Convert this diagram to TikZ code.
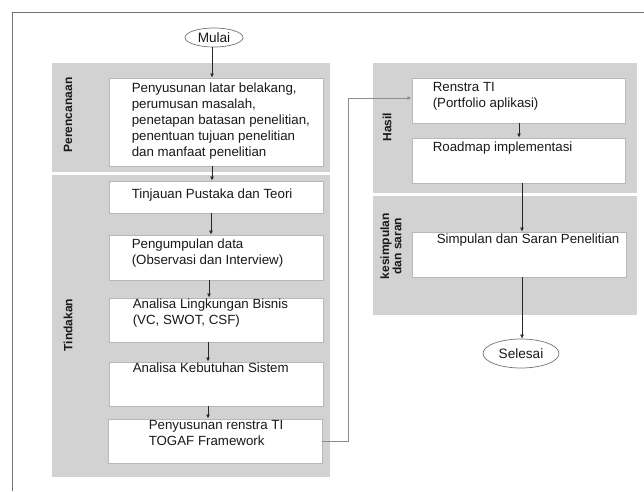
\documentclass[tikz,border=0pt]{standalone}
\usepackage{fontspec}
\setmainfont{Liberation Sans}
\usetikzlibrary{arrows.meta,calc,shapes.geometric}
\begin{document}
\begin{tikzpicture}[x=1pt,y=-1pt,
  band/.style={fill=gray!35,draw=none},
  box/.style={draw=black!28,line width=0.9pt,fill=white,minimum width=214pt,inner sep=0pt},
  txt/.style={font=\fontsize{13.3}{16}\selectfont,align=left,inner sep=0pt,anchor=north west,text=black!90},
  lane/.style={font=\bfseries\fontsize{12}{11}\selectfont,rotate=90,align=center,inner sep=0pt,text=black!90},
  term/.style={ellipse,draw=black!55,line width=0.7pt,fill=white,inner sep=0pt,font=\fontsize{13.6}{16}\selectfont,text=black!90},
  flow/.style={draw=black!85,line width=0.8pt,-{Latex[length=4pt,width=4pt]}},
  link/.style={draw=black!45,line width=0.9pt,-{Latex[length=4pt,width=4pt]}}]
\useasboundingbox (0,0) rectangle (644,491);
% outer frame
\draw[black!55,line width=0.8pt] (12.5,491) -- (12.5,12) -- (644,12);
% swimlane bands
\fill[band] (52,63) rectangle (330,172);
\fill[band] (52,175) rectangle (330,477);
\fill[band] (373,63) rectangle (637,193);
\fill[band] (373,196) rectangle (637,315);
\node[lane] (lp) at (68,115) {Perencanaan};
\node[lane] (lt) at (68,325) {Tindakan};
\node[lane] (lh) at (387,127) {Hasil};
\node[lane] (lk) at (391,246) {kesimpulan\\dan saran};
% terminals
\node[term,minimum width=58pt,minimum height=19pt] (mulai) at (214,37.5) {Mulai};
\node[term,minimum width=76pt,minimum height=29pt] (selesai) at (521,353.5) {Selesai};
% left column boxes
\node[box,minimum height=88pt] (b1) at (216,122) {};
\node[box,minimum height=32pt] (b2) at (216,197) {};
\node[box,minimum height=45pt] (b3) at (216,257.5) {};
\node[box,minimum height=44pt] (b4) at (216,320) {};
\node[box,minimum height=44pt] (b5) at (216,384) {};
\node[box,minimum height=44pt] (b6) at (215,441) {};
% right column boxes
\node[box,minimum width=213pt,minimum height=45pt] (r1) at (518.5,100.5) {};
\node[box,minimum width=213pt,minimum height=45pt] (r2) at (518.5,160.5) {};
\node[box,minimum width=214pt,minimum height=45pt] (r3) at (519,254.5) {};
% box texts
\node[txt] (t1) at ($(b1.north west)+(23,5)$) {Penyusunan latar belakang,\\perumusan masalah,\\penetapan batasan penelitian,\\penentuan tujuan penelitian\\dan manfaat penelitian};
\node[txt] (t2) at ($(b2.north west)+(23,8)$) {Tinjauan Pustaka dan Teori};
\node[txt] (t3) at ($(b3.north west)+(23,4)$) {Pengumpulan data\\(Observasi dan Interview)};
\node[txt] (t4) at ($(b4.north west)+(24,1)$) {Analisa Lingkungan Bisnis\\(VC, SWOT, CSF)};
\node[txt] (t5) at ($(b5.north west)+(24,1)$) {Analisa Kebutuhan Sistem};
\node[txt] (t6) at ($(b6.north west)+(41,2)$) {Penyusunan renstra TI\\TOGAF Framework};
\node[txt] (t7) at ($(r1.north west)+(21,5)$) {Renstra TI\\(Portfolio aplikasi)};
\node[txt] (t8) at ($(r2.north west)+(21,4)$) {Roadmap implementasi};
\node[txt] (t9) at ($(r3.north west)+(25,2)$) {Simpulan dan Saran Penelitian};
% connectors
\draw[flow] (mulai.south -| 212,0) -- (b1.north -| 212,0);
\draw[flow] (b1.south -| 212,0) -- (b2.north -| 212,0);
\draw[flow] (b2.south -| 211,0) -- (b3.north -| 211,0);
\draw[flow] (b3.south -| 209,0) -- (b4.north -| 209,0);
\draw[flow] (b4.south -| 208,0) -- (b5.north -| 208,0);
\draw[flow] (b5.south -| 208,0) -- (b6.north -| 208,0);
\draw[link] (b6.east) -- (348,441) |- ($(r1.west)+(0,-2.5)$);
\draw[flow] (r1.south -| 519,0) -- (r2.north -| 519,0);
\draw[flow] (r2.south -| 522,0) -- (r3.north -| 522,0);
\draw[flow] (r3.south -| 522,0) -- (selesai.north -| 522,0);
\end{tikzpicture}
\end{document}
